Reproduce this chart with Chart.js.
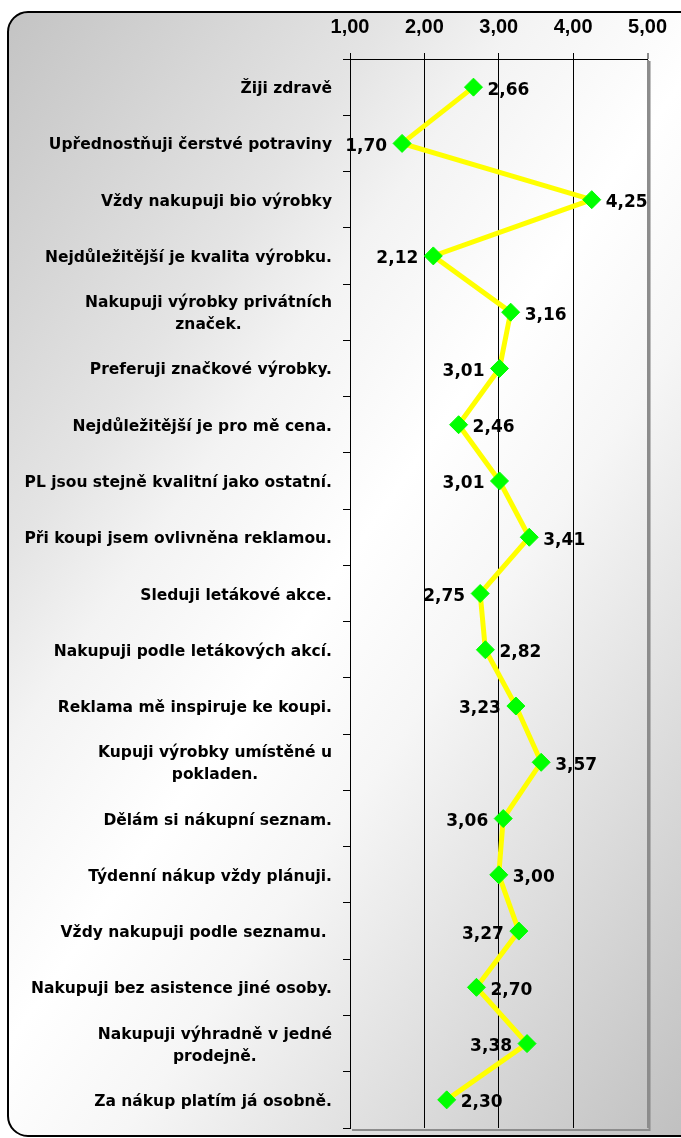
<!DOCTYPE html>
<html>
<head>
<meta charset="utf-8">
<script src="https://cdn.jsdelivr.net/npm/chart.js@4"></script>
<style>
  html, body { margin: 0; padding: 0; background: #ffffff; }
  canvas { display: block; }
</style>
</head>
<body>
<canvas id="graf" width="681" height="1138"></canvas>
<script>
const categories = [
  "Žiji zdravě",
  "Upřednostňuji čerstvé potraviny",
  "Vždy nakupuji bio výrobky",
  "Nejdůležitější je kvalita výrobku.",
  ["Nakupuji výrobky privátních", "značek."],
  "Preferuji značkové výrobky.",
  "Nejdůležitější je pro mě cena.",
  "PL jsou stejně kvalitní jako ostatní.",
  "Při koupi jsem ovlivněna reklamou.",
  "Sleduji letákové akce.",
  "Nakupuji podle letákových akcí.",
  "Reklama mě inspiruje ke koupi.",
  ["Kupuji výrobky umístěné u", "pokladen."],
  "Dělám si nákupní seznam.",
  "Týdenní nákup vždy plánuji.",
  "Vždy nakupuji podle seznamu. ",
  "Nakupuji bez asistence jiné osoby.",
  ["Nakupuji výhradně v jedné", "prodejně."],
  "Za nákup platím já osobně."
];

const scores = [
  2.66, 1.70, 4.25, 2.12, 3.16, 3.01, 2.46, 3.01, 3.41, 2.75,
  2.82, 3.23, 3.57, 3.06, 3.00, 3.27, 2.70, 3.38, 2.30
];

const scaleTicks = [1, 2, 3, 4, 5];

// which side of the marker the value is written on
const labelSide = [
  "r", "l", "r", "l", "r", "l", "r", "l", "r", "l",
  "r", "l", "r", "l", "r", "l", "r", "l", "r"
];

function formatCz(v) {
  return v.toFixed(2).replace(".", ",");
}

// rounded grey panel behind everything + shadow of the plot frame
const panelPlugin = {
  id: "panel",
  beforeDraw(chart) {
    const { ctx, chartArea } = chart;
    const x = 8, y = 12, w = 700, h = 1124, r = 20;
    ctx.save();
    const grad = ctx.createLinearGradient(0, 0, 992, 694);
    grad.addColorStop(0, "#c2c2c2");
    grad.addColorStop(0.27, "#e4e4e4");
    grad.addColorStop(0.36, "#f3f3f3");
    grad.addColorStop(0.5, "#ffffff");
    grad.addColorStop(0.62, "#f6f6f6");
    grad.addColorStop(1, "#c0c0c0");
    ctx.beginPath();
    ctx.roundRect(x, y, w, h, r);
    ctx.fillStyle = grad;
    ctx.fill();
    ctx.lineWidth = 2;
    ctx.strokeStyle = "#000000";
    ctx.stroke();

    ctx.strokeStyle = "#8c8c8c";
    ctx.lineWidth = 2;
    ctx.beginPath();
    ctx.moveTo(chartArea.right + 2, chartArea.top + 2);
    ctx.lineTo(chartArea.right + 2, chartArea.bottom + 2);
    ctx.lineTo(chartArea.left + 2, chartArea.bottom + 2);
    ctx.stroke();
    ctx.restore();
  }
};

// category texts, multi-line ones centred inside a right-aligned block
const categoryLabelsPlugin = {
  id: "categoryLabels",
  afterDraw(chart) {
    const { ctx } = chart;
    const yScale = chart.scales.y;
    const right = 332;
    const lineHeight = 22;
    ctx.save();
    ctx.font = "bold 15.5px 'DejaVu Sans'";
    ctx.fillStyle = "#000000";
    ctx.textBaseline = "middle";
    ctx.textAlign = "center";
    categories.forEach((label, i) => {
      const lines = Array.isArray(label) ? label : [label];
      const widest = Math.max(...lines.map((t) => ctx.measureText(t).width));
      const cx = right - widest / 2;
      const cy = yScale.getPixelForValue(i) + 2;
      lines.forEach((t, j) => {
        ctx.fillText(t, cx, cy + (j - (lines.length - 1) / 2) * lineHeight);
      });
    });
    ctx.restore();
  }
};

// value next to each marker
const valueLabelsPlugin = {
  id: "valueLabels",
  afterDatasetsDraw(chart) {
    const { ctx } = chart;
    const points = chart.getDatasetMeta(0).data;
    ctx.save();
    ctx.font = "bold 17px 'DejaVu Sans'";
    ctx.fillStyle = "#000000";
    ctx.textBaseline = "middle";
    points.forEach((pt, i) => {
      const text = formatCz(scores[i]);
      if (labelSide[i] === "r") {
        ctx.textAlign = "left";
        ctx.fillText(text, pt.x + 14, pt.y + 3);
      } else {
        ctx.textAlign = "right";
        ctx.fillText(text, pt.x - 15, pt.y + 3);
      }
    });
    ctx.restore();
  }
};

const ctx = document.getElementById("graf").getContext("2d");

new Chart(ctx, {
  type: "line",
  data: {
    labels: categories,
    datasets: [
      {
        data: scores,
        borderColor: "#ffff00",
        borderWidth: 5,
        tension: 0,
        pointStyle: "rectRot",
        pointRadius: 9,
        pointBackgroundColor: "#00ff00",
        pointBorderColor: "#00ff00",
        pointBorderWidth: 1
      }
    ]
  },
  options: {
    indexAxis: "y",
    responsive: false,
    animation: false,
    layout: { padding: { left: 0, right: 31, top: 0, bottom: 5 } },
    plugins: {
      legend: { display: false },
      tooltip: { enabled: false }
    },
    scales: {
      x: {
        type: "linear",
        position: "top",
        min: scaleTicks[0],
        max: scaleTicks[scaleTicks.length - 1],
        afterBuildTicks: (scale) => {
          scale.ticks = scaleTicks.map((v) => ({ value: v }));
        },
        afterFit: (scale) => {
          scale.height = 59;
        },
        ticks: {
          callback: (v) => formatCz(v),
          color: "#000000",
          padding: 14,
          maxRotation: 0,
          font: { family: "'Liberation Sans', Arial, sans-serif", size: 20, weight: "bold" }
        },
        grid: {
          color: (c) => (c.tick && c.tick.value === 5 ? "#8c8c8c" : "#000000"),
          lineWidth: (c) => (c.tick && c.tick.value === 5 ? 2 : 1),
          tickLength: 6
        },
        border: { display: true, color: "#000000", width: 1 }
      },
      y: {
        type: "category",
        offset: true,
        afterFit: (scale) => {
          scale.width = 350;
        },
        ticks: { display: false },
        grid: {
          offset: true,
          drawOnChartArea: false,
          drawTicks: true,
          tickLength: 7,
          color: "#000000"
        },
        border: { display: true, color: "#000000", width: 1 }
      }
    }
  },
  plugins: [panelPlugin, categoryLabelsPlugin, valueLabelsPlugin]
});
</script>
</body>
</html>
